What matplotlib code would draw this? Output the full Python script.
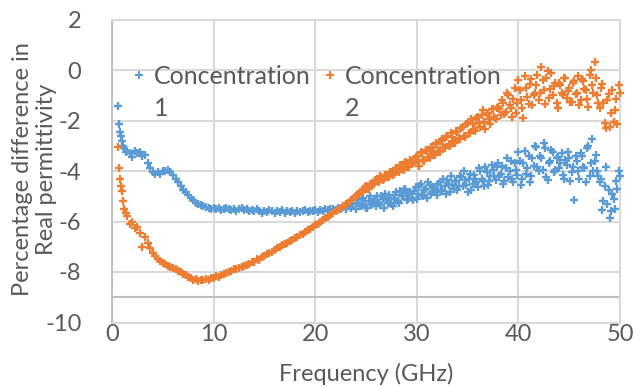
import matplotlib
matplotlib.use("Agg")
import matplotlib.pyplot as plt
from matplotlib.lines import Line2D

# ---------------- data ----------------
FREQ = [
    0.55, 0.65, 0.75, 0.85, 0.95, 1.05, 1.2, 1.35, 1.5,
    1.75, 2.0, 2.25, 2.5, 2.75, 3.0, 3.25, 3.5,
    3.75, 4.0, 4.25, 4.5, 4.75, 5.0, 5.25, 5.5,
    5.75, 6.0, 6.25, 6.5, 6.75, 7.0, 7.25, 7.5,
    7.75, 8.0, 8.25, 8.5, 8.75, 9.0, 9.25, 9.5,
    9.75, 10.0, 10.25, 10.5, 10.75, 11.0, 11.25, 11.5,
    11.75, 12.0, 12.25, 12.5, 12.75, 13.0, 13.25, 13.5,
    13.75, 14.0, 14.25, 14.5, 14.75, 15.0, 15.25, 15.5,
    15.75, 16.0, 16.25, 16.5, 16.75, 17.0, 17.25, 17.5,
    17.75, 18.0, 18.25, 18.5, 18.75, 19.0, 19.25, 19.5,
    19.75, 20.0, 20.25, 20.5, 20.75, 21.0, 21.25, 21.5,
    21.75, 22.0, 22.25, 22.5, 22.75, 23.0, 23.25, 23.5,
    23.75, 24.0, 24.25, 24.5, 24.75, 25.0, 25.25, 25.5,
    25.75, 26.0, 26.25, 26.5, 26.75, 27.0, 27.25, 27.5,
    27.75, 28.0, 28.25, 28.5, 28.75, 29.0, 29.25, 29.5,
    29.75, 30.0, 30.25, 30.5, 30.75, 31.0, 31.25, 31.5,
    31.75, 32.0, 32.25, 32.5, 32.75, 33.0, 33.25, 33.5,
    33.75, 34.0, 34.25, 34.5, 34.75, 35.0, 35.25, 35.5,
    35.75, 36.0, 36.25, 36.5, 36.75, 37.0, 37.25, 37.5,
    37.75, 38.0, 38.25, 38.5, 38.75, 39.0, 39.25, 39.5,
    39.75, 40.0, 40.25, 40.5, 40.75, 41.0, 41.25, 41.5,
    41.75, 42.0, 42.25, 42.5, 42.75, 43.0, 43.25, 43.5,
    43.75, 44.0, 44.25, 44.5, 44.75, 45.0, 45.25, 45.5,
    45.75, 46.0, 46.25, 46.5, 46.75, 47.0, 47.25, 47.5,
    47.75, 48.0, 48.25, 48.5, 48.75, 49.0, 49.25, 49.5,
    49.75, 50.0,
]

CONC1 = [
    -1.43, -2.15, -2.45, -2.6, -2.8, -3.0, -3.1, -3.25, -3.2,
    -3.3, -3.45, -3.2, -3.3, -3.25, -3.4, -3.35, -3.7,
    -3.9, -4.05, -4.1, -4.05, -4.1, -4.0, -4.0, -3.95,
    -4.05, -4.15, -4.3, -4.45, -4.6, -4.75, -4.85, -4.95,
    -5.05, -5.15, -5.25, -5.3, -5.35, -5.4, -5.42, -5.45,
    -5.5, -5.45, -5.52, -5.48, -5.55, -5.5, -5.45, -5.52,
    -5.55, -5.5, -5.58, -5.5, -5.45, -5.55, -5.5, -5.58,
    -5.55, -5.6, -5.52, -5.6, -5.65, -5.58, -5.62, -5.55,
    -5.6, -5.65, -5.58, -5.62, -5.55, -5.65, -5.6, -5.62,
    -5.6, -5.65, -5.58, -5.62, -5.6, -5.55, -5.62, -5.58,
    -5.6, -5.55, -5.62, -5.55, -5.58, -5.5, -5.55, -5.52,
    -5.5, -5.55, -5.45, -5.5, -5.42, -5.5, -5.38, -5.45,
    -5.3, -5.5, -5.15, -5.4, -5.05, -5.45, -5.2, -5.35,
    -5.1, -5.4, -5.25, -5.0, -5.45, -5.15, -4.95, -5.3,
    -5.1, -4.85, -5.25, -5.0, -4.75, -5.15, -4.9, -5.05,
    -4.8, -5.1, -4.6, -4.95, -4.75, -5.05, -4.55, -4.85,
    -4.7, -4.95, -4.45, -4.8, -4.6, -4.35, -4.85, -4.55,
    -4.4, -4.75, -4.2, -4.6, -4.35, -4.85, -4.1, -4.5,
    -4.3, -4.65, -4.0, -4.4, -3.85, -4.55, -4.2, -3.95,
    -4.35, -3.7, -4.1, -4.5, -3.9, -4.25, -3.6, -4.45,
    -3.95, -3.25, -4.55, -3.7, -4.1, -3.4, -4.2, -3.8,
    -3.05, -4.0, -3.5, -2.9, -4.25, -3.7, -3.15, -4.05,
    -3.5, -3.9, -3.3, -4.3, -3.75, -3.5, -4.05, -5.15,
    -3.6, -4.3, -3.4, -3.9, -3.1, -4.2, -2.75, -3.6,
    -4.0, -4.45, -5.55, -4.6, -5.3, -5.85, -4.9, -5.5,
    -4.7, -4.2,
]

CONC2 = [
    -3.05, -3.9, -4.3, -4.6, -4.8, -5.2, -5.5, -5.65, -5.8,
    -6.1, -6.0, -6.25, -6.2, -6.45, -7.0, -6.6, -6.85,
    -7.05, -7.25, -7.35, -7.5, -7.55, -7.65, -7.7, -7.75,
    -7.8, -7.85, -7.9, -7.95, -8.0, -8.08, -8.12, -8.2,
    -8.25, -8.3, -8.28, -8.35, -8.3, -8.32, -8.28, -8.3,
    -8.22, -8.25, -8.15, -8.18, -8.1, -8.08, -8.02, -8.0,
    -7.95, -7.9, -7.88, -7.85, -7.8, -7.75, -7.72, -7.7,
    -7.62, -7.6, -7.5, -7.52, -7.42, -7.38, -7.3, -7.25,
    -7.2, -7.12, -7.05, -7.02, -6.95, -6.88, -6.85, -6.78,
    -6.72, -6.65, -6.6, -6.52, -6.48, -6.4, -6.35, -6.28,
    -6.22, -6.15, -6.1, -6.02, -5.95, -5.88, -5.82, -5.75,
    -5.68, -5.6, -5.55, -5.45, -5.4, -5.3, -5.25, -5.15,
    -5.1, -5.0, -4.92, -4.85, -4.75, -4.6, -4.7, -4.5,
    -4.5, -4.35, -4.45, -4.25, -4.3, -4.15, -4.25, -4.05,
    -4.1, -3.9, -4.05, -3.8, -3.95, -3.7, -3.85, -3.6,
    -3.65, -3.4, -3.8, -3.3, -3.6, -3.2, -3.5, -3.1,
    -3.35, -2.95, -3.25, -2.75, -3.1, -2.6, -3.0, -2.65,
    -2.9, -2.45, -2.75, -2.25, -2.65, -2.1, -2.5, -2.15,
    -2.4, -1.85, -2.25, -1.6, -2.35, -1.75, -2.15, -1.55,
    -1.95, -1.45, -1.8, -1.3, -1.65, -1.0, -1.5, -1.15,
    -1.7, -0.4, -1.2, -1.9, -0.7, -1.35, -0.35, -1.0,
    -0.6, -1.2, 0.1, -0.8, -0.3, -1.1, -0.1, -0.65,
    -1.3, -0.5, -0.9, -0.3, -1.1, -0.7, -1.25, -0.45,
    -0.9, -1.4, -0.35, -0.75, -1.15, -0.2, -0.6, 0.3,
    -1.0, -1.5, -0.55, -2.1, -1.2, -2.25, -0.8, -1.6,
    -2.15, -0.9,
]

# extra in-between sweep points of the noisy upper band
FREQ_EXTRA = [
    24.125, 24.375, 24.625, 24.875, 25.125, 25.375, 25.625, 25.875,
    26.125, 26.375, 26.625, 26.875, 27.125, 27.375, 27.625, 27.875,
    28.125, 28.375, 28.625, 28.875, 29.125, 29.375, 29.625, 29.875,
    30.125, 30.375, 30.625, 30.875, 31.125, 31.375, 31.625, 31.875,
    32.125, 32.375, 32.625, 32.875, 33.125, 33.375, 33.625, 33.875,
    34.125, 34.375, 34.625, 34.875, 35.125, 35.375, 35.625, 35.875,
    36.125, 36.375, 36.625, 36.875, 37.125, 37.375, 37.625, 37.875,
    38.125, 38.375, 38.625, 38.875, 39.125, 39.375, 39.625, 39.875,
    40.125, 40.375, 40.625, 40.875, 41.125, 41.375, 41.625, 41.875,
    42.125, 42.375, 42.625, 42.875, 43.125, 43.375, 43.625, 43.875,
    44.125, 44.375, 44.625, 44.875, 45.125, 45.375, 45.625, 45.875,
    46.125, 46.375, 46.625, 46.875, 47.125, 47.375, 47.625, 47.875,
    48.125, 48.375, 48.625, 48.875, 49.125, 49.375, 49.625, 49.875,
]

CONC1_EXTRA = [
    -5.25, -5.4, -5.1, -5.3, -5.45, -5.0, -5.3, -5.2,
    -5.0, -5.35, -5.1, -4.9, -5.25, -5.05, -5.4, -4.95,
    -5.2, -4.8, -5.0, -4.7, -5.1, -4.85, -5.15, -4.65,
    -4.9, -4.5, -5.0, -4.7, -4.45, -4.9, -4.65, -4.85,
    -4.5, -4.75, -4.3, -4.9, -4.55, -4.2, -4.7, -4.4,
    -4.6, -4.25, -4.0, -4.55, -4.3, -4.75, -4.15, -4.45,
    -3.9, -4.3, -4.6, -4.05, -4.4, -3.75, -4.2, -3.85,
    -4.2, -3.8, -4.4, -3.5, -4.0, -4.3, -3.7, -4.15,
    -3.6, -4.3, -3.2, -3.9, -4.45, -3.5, -3.0, -3.85,
    -3.4, -3.95, -3.1, -4.35, -3.6, -3.25, -3.95, -3.45,
    -3.7, -4.15, -3.55, -3.25, -4.4, -3.85, -3.4, -4.0,
    -3.3, -3.85, -4.45, -3.0, -3.7, -4.0, -3.35, -4.2,
    -4.3, -5.2, -3.85, -4.75, -5.6, -5.1, -4.4, -4.0,
]

CONC2_EXTRA = [
    -4.95, -4.85, -4.85, -4.65, -4.7, -4.5, -4.55, -4.35,
    -4.4, -4.2, -4.35, -4.15, -4.25, -4.05, -4.15, -3.95,
    -3.95, -3.75, -3.9, -3.65, -3.8, -3.55, -3.7, -3.45,
    -3.6, -3.25, -3.55, -3.15, -3.45, -3.05, -3.3, -2.9,
    -3.2, -2.8, -3.05, -2.65, -2.95, -2.5, -2.8, -2.4,
    -2.7, -2.3, -2.6, -2.15, -2.5, -1.95, -2.35, -1.9,
    -2.1, -1.8, -2.05, -1.7, -1.95, -1.55, -1.85, -1.5,
    -1.55, -1.2, -1.75, -0.9, -1.4, -1.85, -0.7, -1.3,
    -0.8, -1.5, -0.25, -1.05, -0.55, -1.4, -0.9, -0.2,
    -0.9, -0.4, -1.35, -0.05, -0.75, -1.0, -0.5, -1.5,
    -0.6, -1.0, -0.3, -0.85, -1.25, -0.5, -0.95, -0.25,
    -1.2, -0.45, -0.8, -1.45, 0.0, -0.9, -0.3, -1.3,
    -0.7, -1.3, -2.3, -0.95, -1.7, -2.05, -1.15, -0.6,
]

SERIES_LABELS = ["Concentration\n1", "Concentration\n2"]
SERIES_COLORS = ["#5B9BD5", "#ED7D31"]
X_TICKS = [0, 10, 20, 30, 40, 50]
Y_TICKS = [-10, -8, -6, -4, -2, 0, 2]
X_LABEL = "Frequency (GHz)"
Y_LABEL = "Percentage difference in\nReal permittivity"

# ---------------- figure ----------------
plt.rcParams['font.family'] = ['Lato', 'DejaVu Sans']
TEXT_COLOR = "#595959"
GRID_COLOR = "#D9D9D9"
AXIS_COLOR = "#BFBFBF"
FS = 17
W, H = 634, 387

fig = plt.figure(figsize=(W / 100, H / 100), dpi=100)
ax = fig.add_axes([112 / W, 1 - 322.5 / H, 508 / W, 303 / H])

series = [(FREQ + FREQ_EXTRA, CONC1 + CONC1_EXTRA),
          (FREQ + FREQ_EXTRA, CONC2 + CONC2_EXTRA)]
for (xs, ys), lab, col in zip(series, SERIES_LABELS, SERIES_COLORS):
    ax.plot(xs, ys, linestyle="none", marker="+", markersize=6,
            markeredgewidth=1.7, color=col, label=lab, clip_on=False, zorder=3)

ax.set_xlim(X_TICKS[0], X_TICKS[-1])
ax.set_ylim(Y_TICKS[0], Y_TICKS[-1])
ax.set_xticks(X_TICKS)
ax.set_yticks(Y_TICKS)
ax.set_xticklabels([str(v) for v in X_TICKS])
ax.set_yticklabels([str(v) for v in Y_TICKS])
ax.tick_params(axis="both", length=0, labelsize=FS, labelcolor=TEXT_COLOR)
ax.tick_params(axis="x", pad=1)
ax.tick_params(axis="y", pad=22)

ax.grid(True, color=GRID_COLOR, linewidth=1.5, zorder=0)
ax.set_axisbelow(True)
for side in ["top", "right", "bottom"]:
    ax.spines[side].set_color(GRID_COLOR)
    ax.spines[side].set_linewidth(1.5)
ax.spines["left"].set_color(AXIS_COLOR)
ax.spines["left"].set_linewidth(1.5)
# horizontal axis line (crosses at -9)
ax.axhline(-9, color=AXIS_COLOR, linewidth=1.5, zorder=1)

ax.set_xlabel(X_LABEL, fontsize=FS, color=TEXT_COLOR, labelpad=13)
fig.text(34.5 / W, 1 - 169 / H, Y_LABEL, rotation=90, ha="center", va="center",
         multialignment="center", fontsize=FS, color=TEXT_COLOR,
         linespacing=1.22)

# legend (manual, marker aligned with the first text line as in the reference)
LEG_FS = 18
key_x = [139, 330]
text_x = [154, 345]
for lab, col, kx, tx in zip(SERIES_LABELS, SERIES_COLORS, key_x, text_x):
    fig.add_artist(Line2D([kx / W], [1 - 75 / H], transform=fig.transFigure,
                          linestyle="none", marker="+", markersize=5.5,
                          markeredgewidth=1.5, color=col))
    first, second = lab.split("\n")
    fig.text(tx / W, 1 - 83.5 / H, first, ha="left", va="baseline",
             fontsize=LEG_FS, color=TEXT_COLOR)
    fig.text(tx / W, 1 - 115.5 / H, second, ha="left", va="baseline",
             fontsize=LEG_FS, color=TEXT_COLOR)

fig.savefig("out.png", dpi=100)
